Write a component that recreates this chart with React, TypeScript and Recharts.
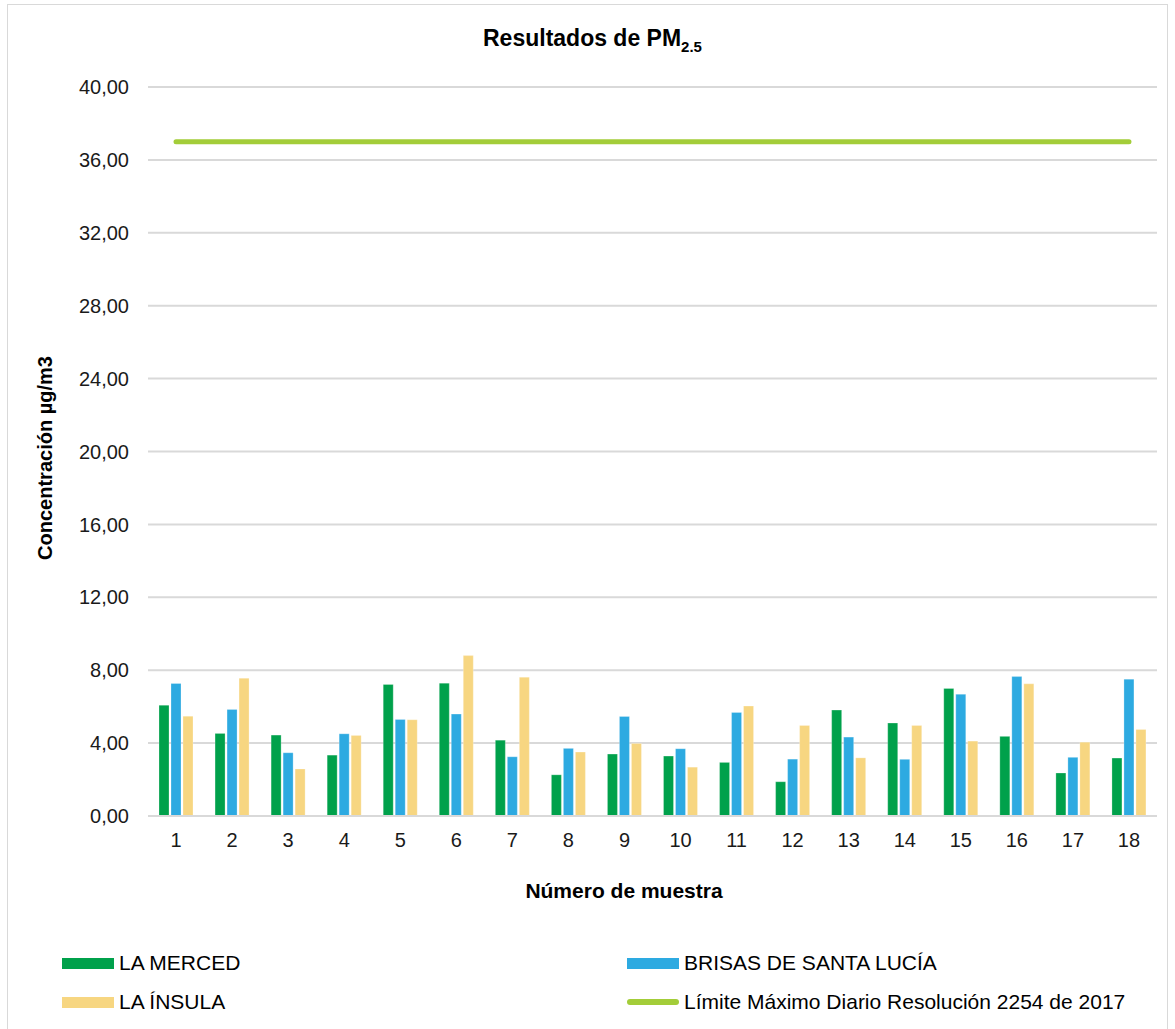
import React from 'react';
import { ComposedChart, Bar, Line, XAxis, YAxis, CartesianGrid } from 'recharts';

const samples = ['1', '2', '3', '4', '5', '6', '7', '8', '9', '10', '11', '12', '13', '14', '15', '16', '17', '18'];
const laMerced = [6.08, 4.53, 4.44, 3.34, 7.22, 7.29, 4.16, 2.26, 3.4, 3.29, 2.94, 1.88, 5.81, 5.1, 7.0, 4.37, 2.36, 3.18];
const brisasSantaLucia = [7.27, 5.85, 3.47, 4.51, 5.3, 5.59, 3.25, 3.71, 5.46, 3.69, 5.68, 3.12, 4.33, 3.11, 6.68, 7.65, 3.22, 7.51];
const laInsula = [5.48, 7.56, 2.58, 4.42, 5.28, 8.8, 7.62, 3.51, 3.98, 2.68, 6.03, 4.97, 3.19, 4.97, 4.11, 7.25, 4.05, 4.75];
const limiteDiario = 37;
const yTicks = [0, 4, 8, 12, 16, 20, 24, 28, 32, 36, 40];

const data = samples.map((s, i) => ({
    muestra: s,
    merced: laMerced[i],
    brisas: brisasSantaLucia[i],
    insula: laInsula[i],
    limite: limiteDiario,
}));

const FONT = '"Liberation Sans", Arial, sans-serif';

const series = [
    { key: 'merced', name: 'LA MERCED', color: '#00A14B', type: 'bar' },
    { key: 'brisas', name: 'BRISAS DE SANTA LUCÍA', color: '#2DAAE1', type: 'bar' },
    { key: 'insula', name: 'LA ÍNSULA', color: '#F7D681', type: 'bar' },
    { key: 'limite', name: 'Límite Máximo Diario Resolución 2254 de 2017', color: '#A3CD39', type: 'line' },
];

if (typeof document !== 'undefined') {
    document.body.style.margin = '0';
}

const fmt = (v: number) => v.toFixed(2).replace('.', ',');

const YLabel: React.FC<any> = () => (
    <text
        x={37}
        y={453}
        transform="rotate(-90, 37, 453)"
        textAnchor="middle"
        dominantBaseline="central"
        fontFamily={FONT}
        fontWeight="bold"
        fontSize={20}
        fill="#000"
    >
        Concentración µg/m3
    </text>
);

const XLabel: React.FC<any> = () => (
    <text x={616} y={893} textAnchor="middle" fontFamily={FONT} fontWeight="bold" fontSize={21} fill="#000">
        Número de muestra
    </text>
);

const App: React.FC = () => {
    return (
        <div
            style={{
                position: 'absolute',
                left: 7,
                top: 4,
                width: 1161,
                height: 1025,
                boxSizing: 'border-box',
                border: '1px solid #d9d9d9',
                borderBottom: 'none',
                background: '#fff',
                fontFamily: FONT,
            }}
        >
            <div style={{ position: 'absolute', left: 475, top: 20, fontSize: 23, fontWeight: 'bold', color: '#000', whiteSpace: 'nowrap' }}>
                Resultados de PM<span style={{ fontSize: 15, position: 'relative', top: 6 }}>2.5</span>
            </div>
            <ComposedChart
                width={1159}
                height={1024}
                data={data}
                margin={{ top: 82, right: 10, left: 0, bottom: 0 }}
                barSize={10}
                barGap={2}
            >
                <CartesianGrid vertical={false} stroke="#d9d9d9" strokeWidth={2} />
                <XAxis
                    dataKey="muestra"
                    height={213}
                    tickLine={false}
                    axisLine={{ stroke: '#d9d9d9', strokeWidth: 2 }}
                    tickMargin={11}
                    tick={{ fontFamily: FONT, fontSize: 20, fill: '#1a1a1a' }}
                    label={<XLabel />}
                />
                <YAxis
                    width={140}
                    domain={[0, 40]}
                    ticks={yTicks}
                    interval={0}
                    tickLine={false}
                    axisLine={false}
                    tickMargin={13}
                    tickFormatter={fmt}
                    tick={{ fontFamily: FONT, fontSize: 20, fill: '#1a1a1a' }}
                    label={<YLabel />}
                />
                {series.filter((s) => s.type === 'bar').map((s) => (
                    <Bar key={s.key} dataKey={s.key} name={s.name} fill={s.color} stroke="#ffffff" strokeOpacity={0.5} strokeWidth={0.5} isAnimationActive={false} />
                ))}
                <Line
                    dataKey="limite"
                    name={series[3].name}
                    stroke={series[3].color}
                    strokeWidth={5}
                    strokeLinecap="round"
                    dot={false}
                    activeDot={false}
                    isAnimationActive={false}
                />
            </ComposedChart>
            {series.map((s, i) => {
                const col = i % 2;
                const row = Math.floor(i / 2);
                const left = col === 0 ? 54 : 619;
                const top = row === 0 ? 946 : 985;
                return (
                    <div key={s.key} style={{ position: 'absolute', left, top, height: 24, display: 'flex', alignItems: 'center', whiteSpace: 'nowrap' }}>
                        <div
                            style={{
                                width: 52,
                                height: s.type === 'line' ? 6 : 11,
                                borderRadius: s.type === 'line' ? 3 : 0,
                                background: s.color,
                                marginRight: 5,
                            }}
                        />
                        <span style={{ fontSize: 21, color: '#000', lineHeight: '24px' }}>{s.name}</span>
                    </div>
                );
            })}
        </div>
    );
};

export default App;
